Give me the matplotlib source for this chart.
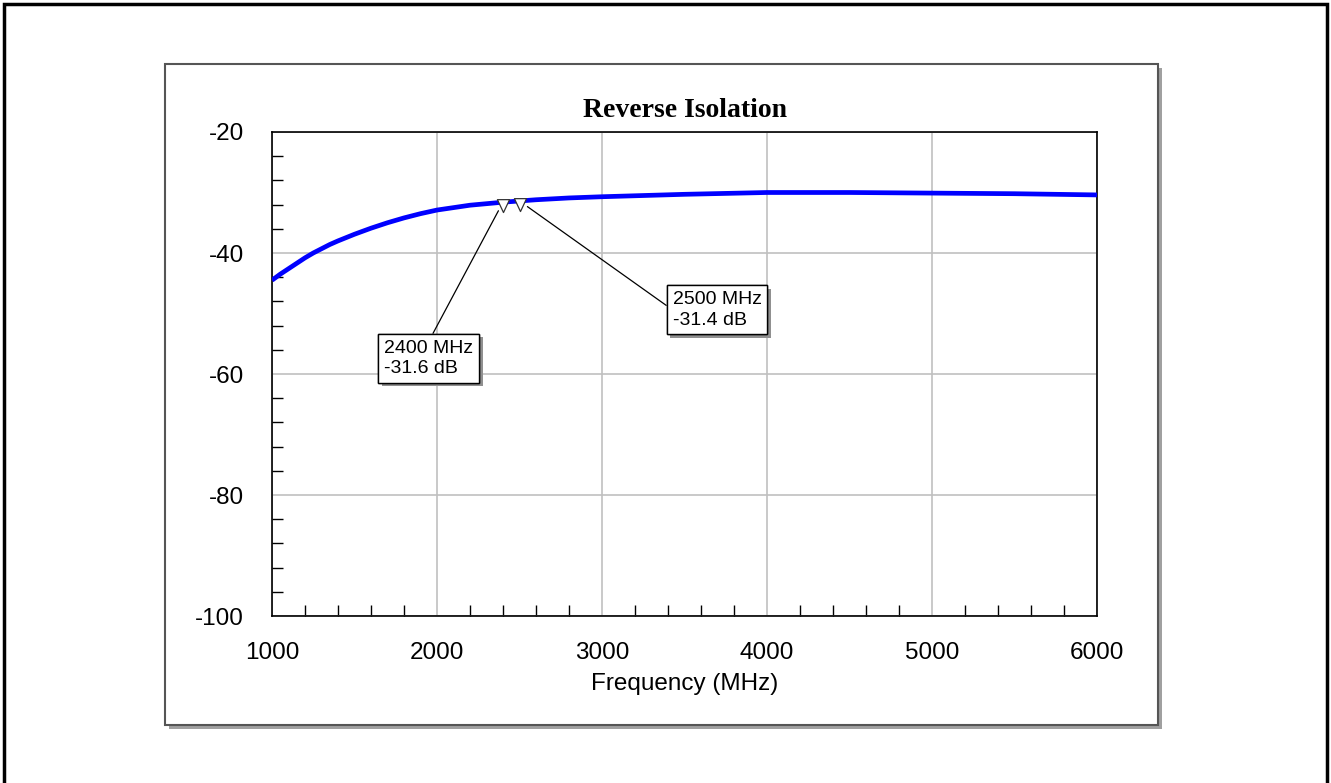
import matplotlib
matplotlib.use("Agg")
import matplotlib.pyplot as plt
import matplotlib.patheffects as pe
from matplotlib.patches import Rectangle
from matplotlib.path import Path
import numpy as np

# Reverse isolation trace
freq_mhz = [1000, 1050, 1100, 1150, 1200, 1250, 1300, 1350, 1400, 1500, 1600, 1700,
            1800, 1900, 2000, 2200, 2400, 2500, 2600, 2800, 3000, 3500, 4000, 4500,
            5000, 5500, 6000]
isolation_db = [-44.5, -43.5, -42.6, -41.7, -40.8, -40.0, -39.3, -38.6, -38.0, -36.9,
                -35.9, -35.0, -34.2, -33.5, -32.9, -32.1, -31.6, -31.4, -31.2, -30.9,
                -30.7, -30.3, -30.0, -30.0, -30.1, -30.2, -30.4]

marker_freq = [2400, 2500]
marker_db = [-31.6, -31.4]
marker_text = ["2400 MHz\n-31.6 dB", "2500 MHz\n-31.4 dB"]

x_ticks = [1000, 2000, 3000, 4000, 5000, 6000]
y_ticks = [-100, -80, -60, -40, -20]

W, H = 1331, 783
plt.rcParams["font.family"] = ["Liberation Sans", "DejaVu Sans"]
plt.rcParams["axes.unicode_minus"] = False

fig = plt.figure(figsize=(W / 100, H / 100), dpi=100)


def px_rect(x0, y0, x1, y1, **kw):
    # rectangle given in image pixels (top-left origin)
    return Rectangle((x0 / W, 1 - y1 / H), (x1 - x0) / W, (y1 - y0) / H,
                     transform=fig.transFigure, **kw)


# outer frame and panel with drop shadow (kept behind the axes)
fig.patches.append(px_rect(4, 4, 1327, 800, fill=False, edgecolor="black", lw=2.5, zorder=-3))
fig.patches.append(px_rect(169, 68, 1162, 729, facecolor="#a0a0a0", edgecolor="none", zorder=-2))
fig.patches.append(px_rect(165, 64, 1158, 725, facecolor="white", edgecolor="#555555", lw=1.5, zorder=-1))

ax_l, ax_r, ax_t, ax_b = 272, 1097, 132, 616
ax = fig.add_axes([ax_l / W, 1 - ax_b / H, (ax_r - ax_l) / W, (ax_b - ax_t) / H])
ax.set_facecolor("white")

ax.plot(freq_mhz, isolation_db, color="#0000ff", lw=3.4, zorder=3,
        solid_joinstyle="round", solid_capstyle="butt")

# triangle marker, top edge just above the trace point
tri = Path([(-0.47, 0.22), (0.47, 0.22), (0.0, -0.78), (-0.47, 0.22)],
           [Path.MOVETO, Path.LINETO, Path.LINETO, Path.CLOSEPOLY])
ax.plot(marker_freq, marker_db, linestyle="none", marker=tri, markersize=14.5,
        markerfacecolor="white", markeredgecolor="#333333", markeredgewidth=0.9, zorder=4)

text_pos = [(0.136, 0.494), (0.4855, 0.594)]
rel_pos = [(0.51, 1.0), (0.0, 0.5)]
for f, v, s, pos, rp in zip(marker_freq, marker_db, marker_text, text_pos, rel_pos):
    an = ax.annotate(s, xy=(f, v), xycoords="data", xytext=pos, textcoords="axes fraction",
                     ha="left", va="bottom", fontsize=14, linespacing=1.25,
                     bbox=dict(boxstyle="square,pad=0.3", facecolor="white",
                               edgecolor="black", lw=1),
                     arrowprops=dict(arrowstyle="-", color="black", lw=0.9,
                                     shrinkA=0, shrinkB=7, relpos=rp),
                     zorder=5)
    an.get_bbox_patch().set_path_effects(
        [pe.withSimplePatchShadow(offset=(2.5, -2.5), shadow_rgbFace="#909090", alpha=1),
         pe.Normal()])

ax.set_xlim(1000, 6000)
ax.set_ylim(-100, -20)
ax.set_xticks(x_ticks)
ax.set_yticks(y_ticks)
ax.set_xticks(np.arange(1000, 6001, 200), minor=True)
ax.set_yticks(np.arange(-100, -19, 4), minor=True)
ax.tick_params(which="major", length=0, labelsize=17.5)
ax.tick_params(axis="y", which="major", pad=20)
ax.tick_params(axis="x", which="major", pad=19)
ax.tick_params(which="minor", direction="in", length=8, width=1, color="black")
ax.grid(True, which="major", color="#c0c0c0", lw=1.2, zorder=1)
ax.set_axisbelow(True)
for sp in ax.spines.values():
    sp.set_color("black")
    sp.set_linewidth(1.2)

ax.set_xlabel("Frequency (MHz)", fontsize=17.5)
ax.xaxis.set_label_coords(0.5, -0.117)
ax.set_title("Reverse Isolation", fontsize=20, fontweight="bold",
             family=["Liberation Serif", "DejaVu Serif"], pad=11)

fig.savefig("out.png", dpi=100)
